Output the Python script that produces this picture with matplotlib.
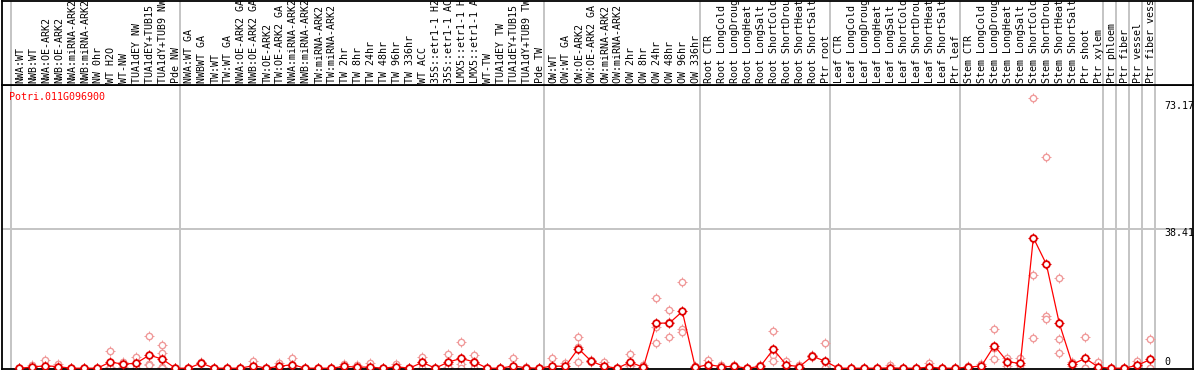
import numpy as np
import matplotlib
matplotlib.use('Agg')
import matplotlib.pyplot as plt

# sample names, in plot order
labels = [
    # NW group
    'NWA:WT', 'NWB:WT', 'NWA:OE-ARK2', 'NWB:OE-ARK2', 'NWA:miRNA-ARK2',
    'NWB:miRNA-ARK2', 'NW 0hr', 'WT H2O', 'WT-NW', 'TUA1dEY NW',
    'TUA1dEY+TUB15 NW', 'TUA1dY+TUB9 NW', 'Pde NW',
    # TW group
    'NWA:WT GA', 'NWBWT GA', 'TW:WT', 'TW:WT GA', 'NWA:OE-ARK2 GA',
    'NWB:OE-ARK2 GA', 'TW:OE-ARK2', 'TW:OE-ARK2 GA', 'NWA:miRNA-ARK2 GA',
    'NWB:miRNA-ARK2 GA', 'TW:miRNA-ARK2', 'TW:miRNA-ARK2 GA', 'TW 2hr',
    'TW 8hr', 'TW 24hr', 'TW 48hr', 'TW 96hr', 'TW 336hr', 'WT ACC',
    '35S::etr1-1 H2O', '35S::etr1-1 ACC', 'LMX5::etr1-1 H2O',
    'LMX5::etr1-1 ACC', 'WT-TW', 'TUA1dEY TW', 'TUA1dEY+TUB15 TW',
    'TUA1dY+TUB9 TW', 'Pde TW',
    # OW group
    'OW:WT', 'OW:WT GA', 'OW:OE-ARK2', 'OW:OE-ARK2 GA', 'OW:miRNA-ARK2',
    'OW:miRNA-ARK2 GA', 'OW 2hr', 'OW 8hr', 'OW 24hr', 'OW 48hr', 'OW 96hr',
    'OW 336hr',
    # root
    'Root CTR', 'Root LongCold', 'Root LongDrought', 'Root LongHeat',
    'Root LongSalt', 'Root ShortCold', 'Root ShortDrought', 'Root ShortHeat',
    'Root ShortSalt', 'Ptr root',
    # leaf
    'Leaf CTR', 'Leaf LongCold', 'Leaf LongDrought', 'Leaf LongHeat',
    'Leaf LongSalt', 'Leaf ShortCold', 'Leaf ShortDrought', 'Leaf ShortHeat',
    'Leaf ShortSalt', 'Ptr leaf',
    # stem
    'Stem CTR', 'Stem LongCold', 'Stem LongDrought', 'Stem LongHeat',
    'Stem LongSalt', 'Stem ShortCold', 'Stem ShortDrought', 'Stem ShortHeat',
    'Stem ShortSalt', 'Ptr shoot', 'Ptr xylem',
    'Ptr phloem', 'Ptr fiber', 'Ptr vessel', 'Ptr fiber vessel',
]

# group boundaries (index of first sample of each block)
group_starts = [0, 13, 41, 53, 63, 73, 84, 85, 86, 87, 88]

means = [
    0, 0.3, 0.7, 0.4, 0, 0, 0, 1.7, 1.1, 1.4, 3.6, 2.5, 0,
    0, 1.4, 0, 0, 0, 0.7, 0, 0.5, 1.0, 0, 0, 0, 0.5, 0.3, 0.3, 0,
    0.4, 0, 1.6, 0, 1.7, 2.7, 1.7, 0, 0, 0.6, 0.1, 0,
    0.6, 0.5, 5.4, 1.9, 0.5, 0, 1.7, 0.2, 12.4, 12.4, 15.6, 0.2,
    1.0, 0.4, 0.5, 0, 0.5, 5.2, 0.9, 0.4, 3.3, 1.9,
    0, 0, 0, 0, 0.1, 0, 0, 0.3, 0, 0,
    0.3, 0.6, 6.2, 1.8, 1.3, 35.9, 28.6, 12.3, 1.1, 2.7, 0.3,
    0, 0, 0.8, 2.4,
]

replicates = [
    [0, 0, 0], [1.0, 0, 0], [2.2, 0, 0], [1.1, 0, 0], [0, 0, 0], [0, 0, 0],
    [0, 0, 0], [4.6, 0.4, 0], [1.6, 1.2, 0.4], [3.0, 1.1, 0],
    [8.8, 1.1, 0.9], [6.3, 4.1, 0.3, 0], [0, 0, 0],
    [0, 0, 0], [1.6, 1.3, 1.3], [0, 0, 0], [0, 0, 0], [0, 0, 0],
    [2.1, 0, 0], [0, 0, 0], [1.5, 0, 0], [2.8, 0.2, 0], [0, 0, 0],
    [0, 0, 0], [0, 0, 0], [1.1, 0.4, 0], [1.0, 0, 0], [1.3, 0, 0],
    [0, 0, 0], [1.1, 0, 0], [0, 0, 0], [3.1, 1.7, 0], [0, 0, 0],
    [3.8, 1.1, 0.2], [7.3, 1.2, 0], [3.6, 1.4, 0], [0, 0, 0], [0, 0, 0],
    [2.8, 0, 0], [0.3, 0, 0], [0, 0, 0],
    [2.8, 0, 0], [1.4, 0.1, 0], [8.7, 5.9, 1.6], [2.2, 1.9, 1.6],
    [1.6, 0, 0], [0, 0, 0], [3.8, 0.8, 0.5], [0.8, 0, 0],
    [19.2, 11.4, 6.9], [15.9, 12.6, 8.7], [23.8, 10.8, 10.0], [0.5, 0, 0],
    [2.2, 0.8, 0], [1.0, 0.2, 0], [1.0, 0.4, 0], [0, 0, 0], [1.0, 0.4, 0],
    [10.1, 3.6, 2.0], [2.0, 0.6, 0], [0.8, 0.3, 0], [3.6, 3.3, 3.0],
    [6.8, 0, 0],
    [0, 0, 0], [0, 0, 0], [0, 0, 0], [0, 0, 0], [0.9, 0, 0], [0, 0, 0],
    [0, 0, 0], [1.4, 0, 0], [0, 0, 0], [0, 0, 0],
    [0.6, 0.3, 0], [1.2, 0.5, 0], [10.7, 5.5, 2.4], [2.8, 2.0, 0.6],
    [2.9, 1.0, 0], [74.2, 25.5, 8.4], [58.2, 14.3, 13.5], [24.9, 8.0, 4.3],
    [1.6, 1.2, 0.5], [8.7, 0, 0], [1.7, 0, 0],
    [0, 0, 0], [0, 0, 0], [1.9, 0.5, 0], [8.0, 0, 0],
]

ytick_values = [73.17, 38.41, 0]
gene = 'Potri.011G096900'

W, H = 1194, 370
mono = 'DejaVu Sans Mono'
fs = 7.2
grey = '#c4c4c4'
pink = '#f09a9a'

fig = plt.figure(figsize=(W / 100, H / 100), dpi=100)
ax = fig.add_axes([2 / W, 1 / H, 1191 / W, 284 / H])
axl = fig.add_axes([2 / W, 285 / H, 1191 / W, 84.4 / H])

x = np.arange(len(labels))
xlim = (-1.33, 90.28)

for a in (ax, axl):
    a.set_xlim(*xlim)
    a.set_xticks([])
    a.set_yticks([])
    for s in a.spines.values():
        s.set_color('black')
        s.set_linewidth(1.3)
    for b in group_starts:
        a.axvline(b - 0.62, color=grey, lw=1.4, zorder=0)

ax.set_ylim(-0.22, 77.9)
ax.axhline(38.41, color=grey, lw=1.4, zorder=0)

# replicates
for i, reps in enumerate(replicates):
    ax.plot([i] * len(reps), reps, ls='none', marker='+', ms=7.4, mew=0.7,
            color=pink, zorder=2, clip_on=False)
    ax.plot([i] * len(reps), reps, ls='none', marker='o', ms=4.6, mew=1.0,
            mec=pink, mfc='white', zorder=2, clip_on=False)

# means
ax.plot(x, means, color='#ff0000', lw=0.9, zorder=3)
ax.plot(x, means, ls='none', marker='+', ms=7.8, mew=0.8, color='#e00000',
        zorder=4, clip_on=False)
ax.plot(x, means, ls='none', marker='o', ms=4.8, mew=1.3, mec='#e00000',
        mfc='white', zorder=4, clip_on=False)

# y value labels on the right
offsets = {73.17: -4, 38.41: -4, 0: 6}
for v in ytick_values:
    ax.annotate('%g' % v, xy=(88.05, v), xytext=(0, offsets[v]),
                textcoords='offset pixels', ha='left', va='center',
                fontsize=fs, family=mono, color='black')

ax.annotate(gene, xy=(0, 1), xycoords='axes fraction', xytext=(7, -12.5),
            textcoords='offset pixels', ha='left', va='center',
            fontsize=fs, family=mono, color='red')

# sample names, clipped at the top like the original
axl.set_ylim(0, 84.4)
for i, lab in enumerate(labels):
    axl.text(i + 0.08, 1.8, lab, rotation=90, ha='center', va='bottom',
             fontsize=fs, family=mono, clip_on=True)

fig.savefig('out.png', dpi=100)
